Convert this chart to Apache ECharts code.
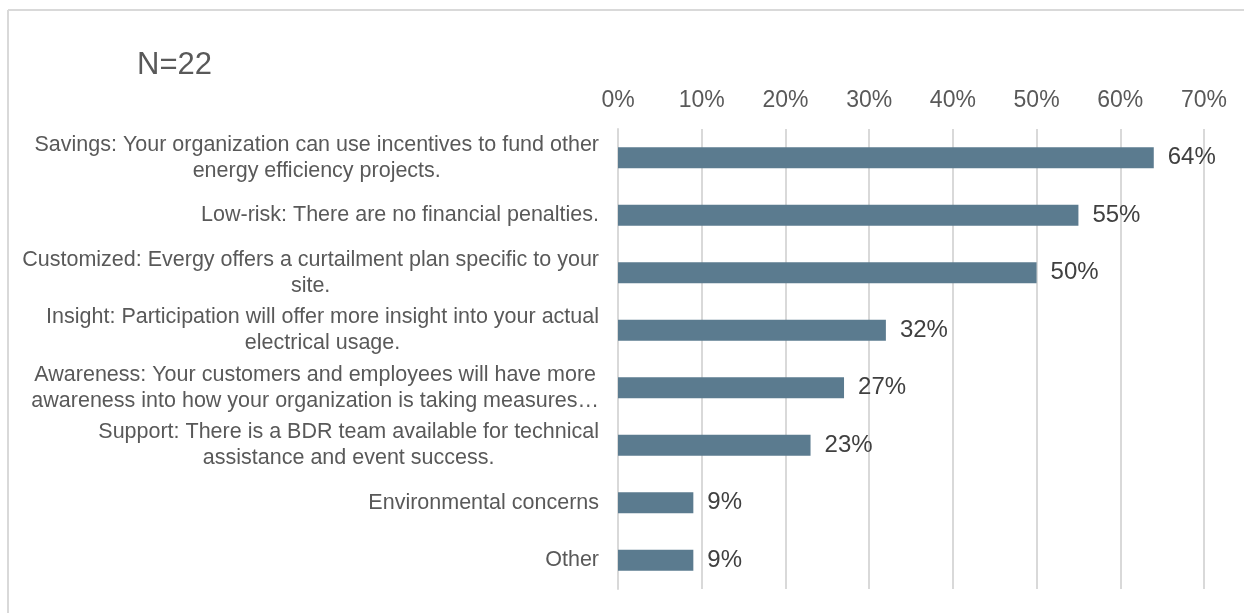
<!DOCTYPE html>
<html>
<head>
<meta charset="utf-8">
<script src="https://cdn.jsdelivr.net/npm/echarts@6/dist/echarts.min.js"></script>
<style>
  html, body { margin: 0; padding: 0; background: #fff; }
  #chart { width: 1244px; height: 613px; }
</style>
</head>
<body>
<div id="chart"></div>
<script>
// Reasons for participating, share of respondents
const categories = [
  'Savings: Your organization can use incentives to fund other\nenergy efficiency projects.',
  'Low-risk: There are no financial penalties.',
  'Customized: Evergy offers a curtailment plan specific to your\nsite.',
  'Insight: Participation will offer more insight into your actual\nelectrical usage.',
  'Awareness: Your customers and employees will have more\nawareness into how your organization is taking measures\u2026',
  'Support: There is a BDR team available for technical\nassistance and event success.',
  'Environmental concerns',
  'Other'
];
const shares = [64, 55, 50, 32, 27, 23, 9, 9];
const tickMax = 70;
const tickStep = 10;
const titleText = 'N=22';

const FONT = 'Liberation Sans, Arial, sans-serif';

const chart = echarts.init(document.getElementById('chart'));
chart.setOption({
  backgroundColor: '#ffffff',
  animation: false,
  title: {
    text: titleText,
    left: 132,
    top: 45,
    textStyle: { fontFamily: FONT, fontSize: 31, fontWeight: 'normal', color: '#595959' }
  },
  graphic: [
    { type: 'line', shape: { x1: 8, y1: 10, x2: 1244, y2: 10 }, style: { stroke: '#d9d9d9', lineWidth: 2 } },
    { type: 'line', shape: { x1: 8, y1: 10, x2: 8, y2: 613 }, style: { stroke: '#d9d9d9', lineWidth: 2 } }
  ],
  grid: { left: 618, right: 40, top: 129, bottom: 24, containLabel: false },
  xAxis: {
    type: 'value',
    position: 'top',
    min: 0,
    max: tickMax,
    interval: tickStep,
    axisLine: { show: false },
    axisTick: { show: false },
    splitLine: { show: true, lineStyle: { color: '#d9d9d9', width: 2 } },
    axisLabel: {
      formatter: v => v + '%',
      margin: 17,
      fontFamily: FONT,
      fontSize: 23,
      color: '#595959'
    }
  },
  yAxis: {
    type: 'category',
    inverse: true,
    data: categories,
    axisLine: { show: true, lineStyle: { color: '#d9d9d9', width: 2 } },
    axisTick: { show: false },
    axisLabel: {
      margin: 19,
      align: 'right',
      // each line centred inside the label block, block pinned to the axis
      formatter: v => v.split('\n').map(s => '{c|' + s + '}').join('\n'),
      rich: {
        c: { align: 'center', fontFamily: FONT, fontSize: 21.5, lineHeight: 26, color: '#595959' }
      }
    }
  },
  series: [{
    type: 'bar',
    data: shares,
    barWidth: 21,
    itemStyle: { color: '#5b7b8f' },
    label: {
      show: true,
      position: 'right',
      distance: 14,
      formatter: p => p.value + '%',
      fontFamily: FONT,
      fontSize: 24,
      color: '#404040'
    }
  }]
});
</script>
</body>
</html>
